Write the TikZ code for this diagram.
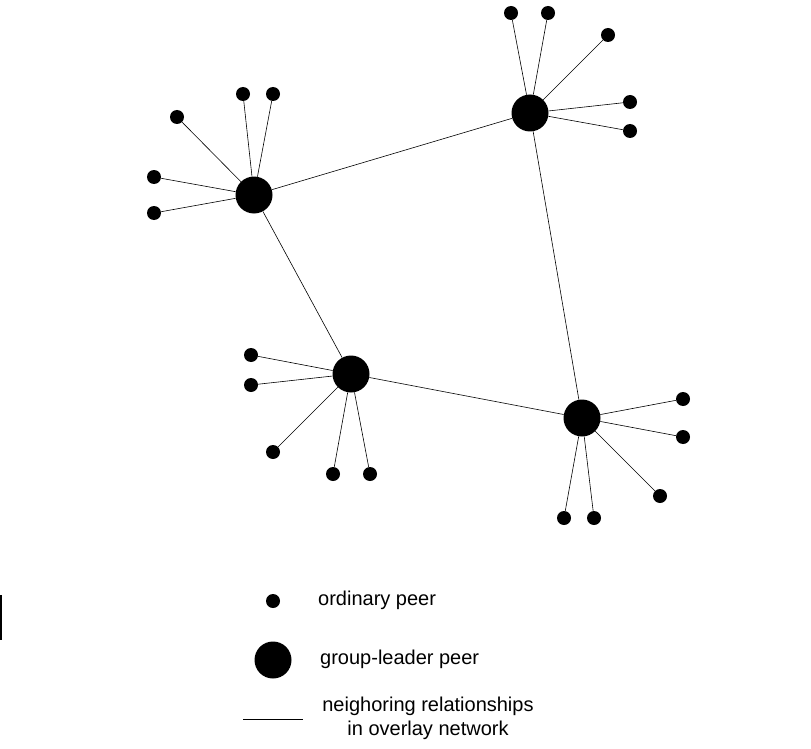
\documentclass[tikz,border=0pt]{standalone}
\usepackage{fontspec}
\setmainfont{Liberation Sans}
\begin{document}
\begin{tikzpicture}[x=1pt,y=-1pt,
  peer/.style={circle,fill=black,inner sep=0pt,minimum size=14pt},
  leader/.style={circle,fill=black,inner sep=0pt,minimum size=37pt},
  link/.style={draw=black,line width=0.6pt},
  lbl/.style={font=\fontsize{20}{24}\selectfont,anchor=west,inner sep=0pt}]
\useasboundingbox (0,0) rectangle (811,749);
\node[leader] (A) at (254,195) {};
\node[leader] (B) at (530,113) {};
\node[leader] (C) at (351,374) {};
\node[leader] (D) at (582,418) {};
\foreach \n/\x/\y in {a1/177/117,a2/243/94,a3/273/94,a4/154/177,a5/154/213}
  {\node[peer] (\n) at (\x,\y) {}; \draw[link] (\n) -- (A);}
\foreach \n/\x/\y in {b1/511/13,b2/548/13,b3/608/35,b4/630/102,b5/630/131}
  {\node[peer] (\n) at (\x,\y) {}; \draw[link] (\n) -- (B);}
\foreach \n/\x/\y in {c1/251/355,c2/251/385,c3/273/452,c4/333/474,c5/370/474}
  {\node[peer] (\n) at (\x,\y) {}; \draw[link] (\n) -- (C);}
\foreach \n/\x/\y in {d1/683/399,d2/683/437,d3/660/496,d4/564/518,d5/594/518}
  {\node[peer] (\n) at (\x,\y) {}; \draw[link] (\n) -- (D);}
\draw[link] (A) -- (B);
\draw[link] (A) -- (C);
\draw[link] (C) -- (D);
\draw[link] (B) -- (D);
% legend
\node[peer] (lp) at (273,601) {};
\node[lbl] (lpt) at (318,600) {ordinary peer};
\node[leader] (ll) at (273,660) {};
\node[lbl] (llt) at (320,659) {group-leader peer};
\coordinate (l1) at (243,719);
\coordinate (l2) at (303,719);
\draw[link] (l1) -- (l2);
\node[font=\fontsize{20}{24}\selectfont,align=center,inner sep=0pt] (lnt) at (428,718) {neighoring relationships\\in overlay network};
\coordinate (e1) at (1,595);
\coordinate (e2) at (1,640);
\draw[line width=1.5pt] (e1) -- (e2);
\end{tikzpicture}
\end{document}
